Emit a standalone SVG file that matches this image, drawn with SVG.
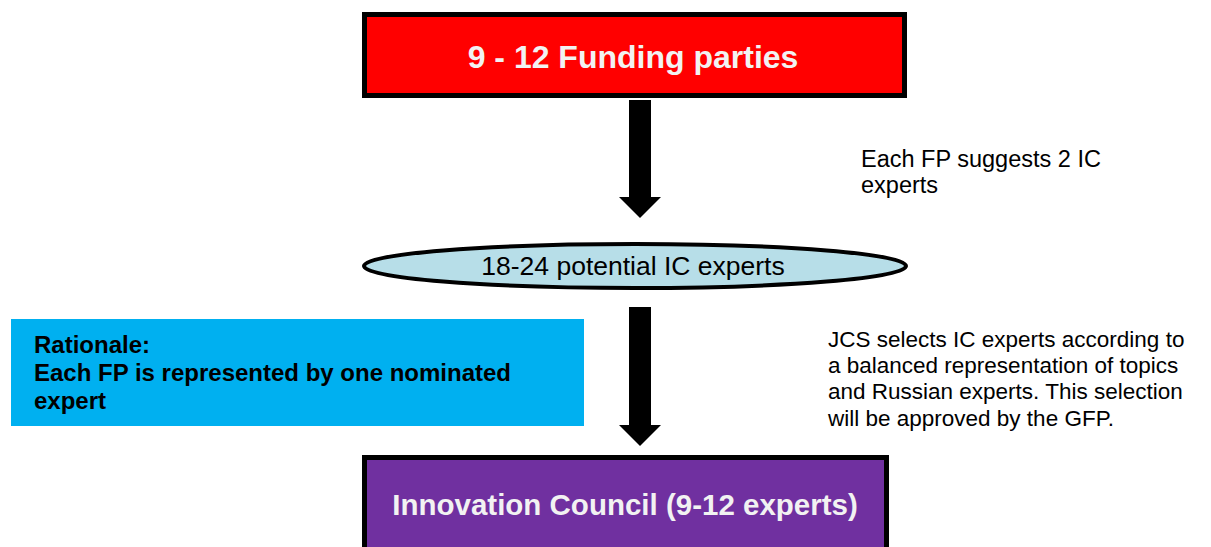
<svg xmlns="http://www.w3.org/2000/svg" width="1211" height="547" viewBox="0 0 1211 547">
<style>
.box{stroke:#000;stroke-width:5}
.t{font-family:"Liberation Sans",Arial,sans-serif}
.tb{font-family:"Liberation Sans",Arial,sans-serif;font-weight:bold}
.arrow{fill:#000}
</style>
<rect width="1211" height="547" fill="#fff"/>
<g id="connectors">
<path class="arrow" d="M629,100 H651 V197 H661 L640,218 L619,197 H629 Z"/>
<path class="arrow" d="M629,307 H651 V425 H661 L640,446 L619,425 H629 Z"/>
</g>
<g id="funding">
<rect class="box" x="364.5" y="14.5" width="540" height="81" fill="#FF0000"/>
<text class="tb" x="633" y="68" font-size="32" fill="#F2F2F2" text-anchor="middle">9 - 12 Funding parties</text>
</g>
<g id="potential">
<ellipse cx="635" cy="266" rx="271" ry="22" fill="#B7DEE8" stroke="#000" stroke-width="4"/>
<text class="t" x="633" y="275" font-size="26.5" fill="#000" text-anchor="middle">18-24 potential IC experts</text>
</g>
<g id="council">
<rect class="box" x="364.5" y="457.5" width="522" height="100" fill="#7030A0"/>
<text class="tb" x="625" y="515" font-size="29.5" fill="#F2F2F2" text-anchor="middle">Innovation Council (9-12 experts)</text>
</g>
<g id="rationale">
<rect x="11" y="319" width="573" height="107" fill="#00B0F0"/>
<text class="tb" font-size="24" fill="#000"><tspan x="34" y="353">Rationale:</tspan><tspan x="34" y="381">Each FP is represented by one nominated</tspan><tspan x="34" y="409">expert</tspan></text>
</g>
<g id="note1">
<text class="t" font-size="23.5" fill="#000"><tspan x="861" y="167">Each FP suggests 2 IC</tspan><tspan x="861" y="193">experts</tspan></text>
</g>
<g id="note2">
<text class="t" font-size="22.5" fill="#000"><tspan x="828" y="347">JCS selects IC experts according to</tspan><tspan x="828" y="373">a balanced representation of topics</tspan><tspan x="828" y="399">and Russian experts. This selection</tspan><tspan x="828" y="426">will be approved by the GFP.</tspan></text>
</g>
</svg>
